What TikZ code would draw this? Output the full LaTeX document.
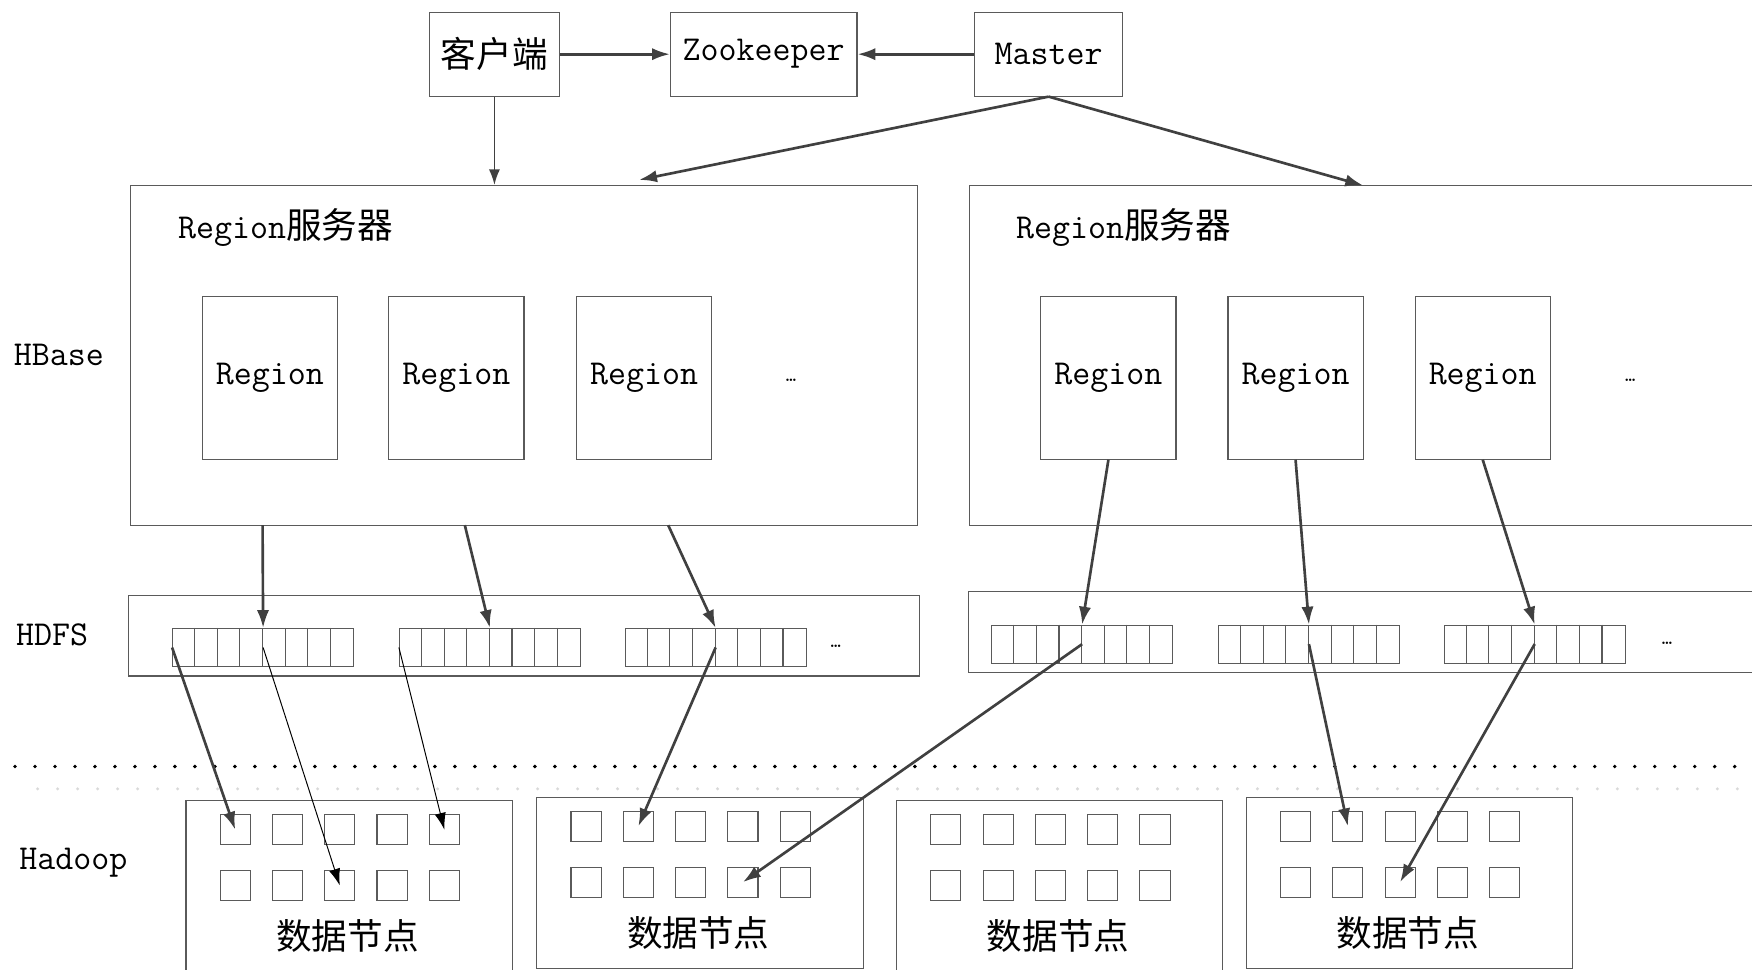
\documentclass[tikz,border=0pt]{standalone}
\usepackage{fontspec}
\newfontfamily\cjk[Scale=1.02]{Noto Sans CJK SC}
\usetikzlibrary{arrows.meta}
\definecolor{ln}{HTML}{404040}
\definecolor{bx}{HTML}{5A5A5A}
\tikzset{
  box/.style={draw=bx, line width=0.55pt, inner sep=0pt},
  arr/.style={draw=ln, line width=1.35pt, -{Latex[length=0.32cm,width=0.22cm]}},
  marr/.style={draw=ln, line width=0.9pt, -{Latex[length=0.28cm,width=0.2cm]}},
  tarr/.style={draw=black, line width=0.5pt, -{Latex[length=0.3cm,width=0.2cm]}},
  txt/.style={font=\fontsize{17.8}{20}\selectfont\ttfamily, inner sep=0pt}
}
\begin{document}
\begin{tikzpicture}[x=0.02cm, y=-0.02cm]
\useasboundingbox (0,0) rectangle (1568,868);
% top row
\node[box, txt, minimum width=2.34cm, minimum height=1.5cm] (cli) at (442.5,48.5) {\cjk 客户端};
\node[box, txt, minimum width=3.34cm, minimum height=1.5cm] (zk) at (683.5,48.5) {Zookeeper};
\node[box, txt, minimum width=2.66cm, minimum height=1.5cm] (mst) at (938.5,48.5) {Master};
\draw[arr] (cli) -- (zk);
\draw[arr] (mst) -- (zk);
% region servers
\node[box, minimum width=14.08cm, minimum height=6.08cm] (srvA) at (469,318) {};
\node[box, minimum width=14.84cm, minimum height=6.08cm] (srvB) at (1239,318) {};
\node[txt, anchor=west] at (159,204) {Region{\cjk 服务器}};
\node[txt, anchor=west] at (909,204) {Region{\cjk 服务器}};
\foreach \n/\x in {rA1/241.5, rA2/408.5, rA3/576.5, rB1/992, rB2/1159.5, rB3/1327}
  \node[box, txt, minimum width=2.42cm, minimum height=2.92cm] (\n) at (\x,338) {Region};
\node[txt] at (708,340) {\fontsize{10}{10}\selectfont \ldots};
\node[txt] at (1459,340) {\fontsize{10}{10}\selectfont \ldots};
\coordinate (mA) at (572,161);
\coordinate (mB) at (1220,166);
\draw[marr] (cli.south) -- (cli.south |- srvA.north);
\draw[arr] (mst.south) -- (mA);
\draw[arr] (mst.south) -- (mB);
% hdfs
\node[box, minimum width=14.16cm, minimum height=1.44cm] (hA) at (469,569) {};
\node[box, minimum width=14.86cm, minimum height=1.46cm] (hB) at (1238.5,565.5) {};
\foreach \b/\x/\y in {bA1/154/562, bA2/357/562, bA3/559/562, bB1/887/559, bB2/1090/559, bB3/1292/559}{
  \node[box, anchor=north west, minimum width=3.24cm, minimum height=0.68cm] (\b) at (\x,\y) {};
  \foreach \i in {1,...,7} \draw[bx, line width=0.55pt] (\x+\i*20.25,\y) -- ++(0,34);
}
\node[txt] at (748,578) {\fontsize{10}{10}\selectfont \ldots};
\node[txt] at (1492,576) {\fontsize{10}{10}\selectfont \ldots};
\coordinate (sA1) at (235,470);
\coordinate (sA2) at (416,470);
\coordinate (sA3) at (598,470);
\draw[arr] (sA1) -- (bA1.north);
\draw[arr] (sA2) -- (bA2.north);
\draw[arr] (sA3) -- (bA3.north);
\draw[arr] (rB1.south) -- (bB1.north);
\draw[arr] (rB2.south) -- (bB2.north);
\draw[arr] (rB3.south) -- (bB3.north);
% layer labels
\node[txt, anchor=west] at (12,318) {HBase};
\node[txt, anchor=west] at (14,568) {HDFS};
\node[txt, anchor=west] at (17,772) {Hadoop};
\draw[black, line width=0.07cm, line cap=round, dash pattern=on 0pt off 0.358cm] (13.4,686) -- (1568,686);
\draw[black!15, line width=0.06cm, line cap=round, dash pattern=on 0pt off 0.358cm] (33.7,706) -- (1568,706);
% data nodes
\foreach \d/\x/\y/\h in {A/166/716/3.1, B/480/713/3.06, C/802/716/3.1, D/1115/713/3.06}{
  \node[box, anchor=north west, minimum width=5.84cm, minimum height=\h cm] (dn\d) at (\x,\y) {};
  \foreach \r in {1,2}
    \foreach \c in {1,...,5}
      \node[box, minimum size=0.54cm] (c\d\r\c) at (\x+44.5+\c*46.8-46.8, \y+26.5+\r*50-50) {};
  \node[txt] at (\x+145,\y+122) {\cjk 数据节点};
}
\draw[arr] (bA1.west) -- (cA11.center);
\draw[tarr] (bA1.center) -- (cA23.center);
\draw[tarr] (bA2.west) -- (cA15.center);
\draw[arr] (bA3.center) -- (cB12.center);
\draw[arr] (bB1.center) -- (cB24.center);
\draw[arr] (bB2.center) -- (cD12.center);
\draw[arr] (bB3.center) -- (cD23.center);
\end{tikzpicture}
\end{document}
